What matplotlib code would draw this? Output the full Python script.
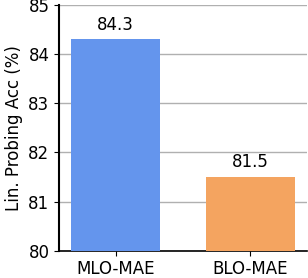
import matplotlib
matplotlib.use("Agg")
import matplotlib.pyplot as plt

methods = ["MLO-MAE", "BLO-MAE"]
acc = [84.3, 81.5]
colors = ["#6495ED", "#F4A460"]

fig = plt.figure(figsize=(3.08, 2.78), dpi=100)
ax = fig.add_axes([0.192, 0.098, 0.805, 0.884])

x = range(len(methods))
bars = ax.bar(x, acc, width=0.66, color=colors, zorder=3)
for b, v in zip(bars, acc):
    ax.text(b.get_x() + b.get_width() / 2, v + 0.12, "%.1f" % v,
            ha="center", va="bottom", fontsize=12)

ax.set_ylim(80, 85)
ax.set_xlim(-0.42, 1.42)
ax.set_xticks(list(x))
ax.set_xticklabels(methods, fontsize=12)
ax.set_yticks([80, 81, 82, 83, 84, 85])
ax.tick_params(axis="y", labelsize=12)
ax.set_ylabel("Lin. Probing Acc (%)", fontsize=12)
ax.yaxis.grid(True, color="#b0b0b0", linewidth=1, zorder=0)
ax.spines["top"].set_visible(False)
ax.spines["right"].set_visible(False)
ax.spines["left"].set_linewidth(1.5)
ax.spines["bottom"].set_linewidth(1.2)

fig.savefig("out.png", dpi=100)
